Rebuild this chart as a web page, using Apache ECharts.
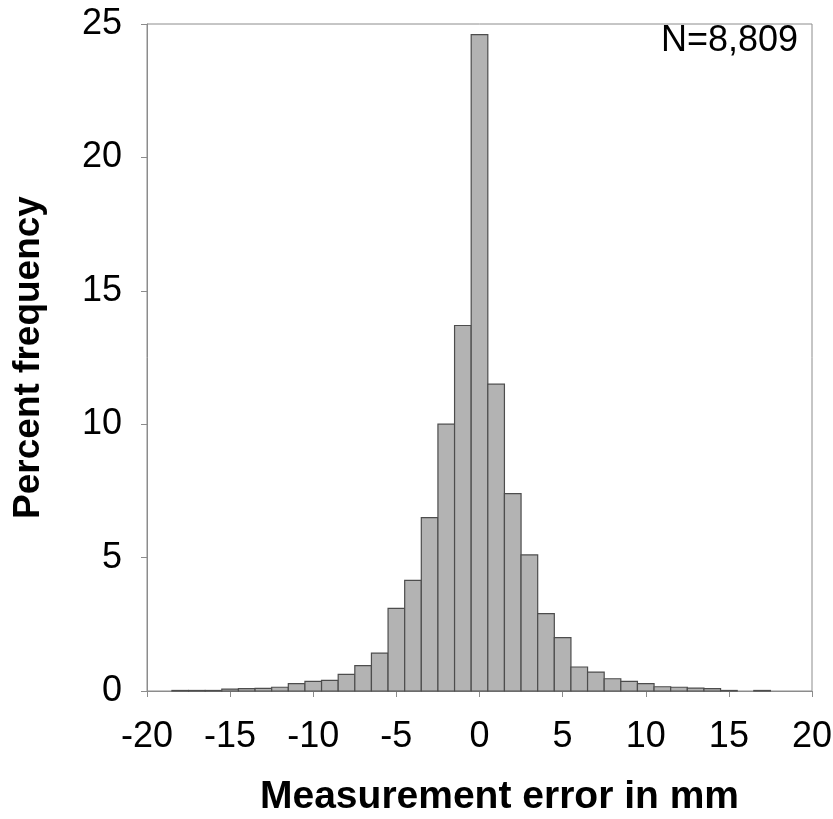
<!DOCTYPE html>
<html>
<head>
<meta charset="utf-8">
<script src="https://cdn.jsdelivr.net/npm/echarts@6/dist/echarts.min.js"></script>
<style>
  html, body { margin: 0; padding: 0; background: #fff; }
  #chart { width: 833px; height: 819px; }
</style>
</head>
<body>
<div id="chart"></div>
<script>
// bin centres (mm), 1 mm wide bins
const binCenters = [-18, -17, -16, -15, -14, -13, -12, -11, -10, -9, -8, -7, -6, -5, -4, -3, -2, -1,
  0, 1, 2, 3, 4, 5, 6, 7, 8, 9, 10, 11, 12, 13, 14, 15, 16, 17];
// percent frequency per bin
const percentFreq = [0.02, 0.02, 0.02, 0.07, 0.09, 0.10, 0.14, 0.28, 0.36, 0.40, 0.62, 0.95, 1.42, 3.1, 4.15, 6.5, 10.0, 13.7,
  24.6, 11.5, 7.4, 5.1, 2.9, 2.0, 0.9, 0.71, 0.46, 0.36, 0.28, 0.16, 0.14, 0.11, 0.09, 0.02, 0, 0.02];
const binWidth = 1;
const sampleLabel = 'N=8,809';

const chart = echarts.init(document.getElementById('chart'));
const font = 'Liberation Sans, Arial, sans-serif';
const axisGray = '#8c8c8c';

const option = {
  animation: false,
  backgroundColor: '#fff',
  grid: {
    left: 147, right: 21, top: 24, bottom: 128,
    outerBoundsMode: 'none',
    show: true, borderColor: axisGray, borderWidth: 1
  },
  title: {
    text: sampleLabel,
    right: 30, top: 18,
    textStyle: { fontFamily: font, fontSize: 36, fontWeight: 'normal', color: '#000' }
  },
  xAxis: {
    type: 'value', min: -20, max: 20, interval: 5,
    name: 'Measurement error in mm',
    nameLocation: 'middle', nameGap: 87,
    nameTextStyle: { fontFamily: font, fontSize: 39, fontWeight: 'bold', color: '#000', padding: [0, 0, 0, 40] },
    axisLine: { onZero: false, lineStyle: { color: axisGray, width: 1 } },
    axisTick: { show: true, length: 6, inside: false, lineStyle: { color: axisGray } },
    axisLabel: { fontFamily: font, fontSize: 36, color: '#000', margin: 28 },
    splitLine: { show: false }
  },
  yAxis: {
    type: 'value', min: 0, max: 25, interval: 5,
    name: 'Percent frequency',
    nameLocation: 'middle', nameGap: 100, nameRotate: 90,
    nameTextStyle: { fontFamily: font, fontSize: 37, fontWeight: 'bold', color: '#000' },
    axisLine: { show: true, onZero: false, lineStyle: { color: axisGray, width: 1 } },
    axisTick: { show: true, length: 6, inside: false, lineStyle: { color: axisGray } },
    axisLabel: { fontFamily: font, fontSize: 36, color: '#000', margin: 25 },
    splitLine: { show: false }
  },
  series: [{
    type: 'custom',
    data: binCenters.map((c, i) => [c, percentFreq[i]]),
    encode: { x: 0, y: 1 },
    renderItem: function (params, api) {
      const c = api.value(0);
      const v = api.value(1);
      if (!v) return null;
      const p0 = api.coord([c - binWidth / 2, v]);
      const p1 = api.coord([c + binWidth / 2, 0]);
      return {
        type: 'rect',
        shape: { x: p0[0], y: p0[1], width: p1[0] - p0[0], height: p1[1] - p0[1] },
        style: { fill: '#b3b3b3', stroke: '#4d4d4d', lineWidth: 1.2 }
      };
    }
  }]
};

chart.setOption(option);
</script>
</body>
</html>
